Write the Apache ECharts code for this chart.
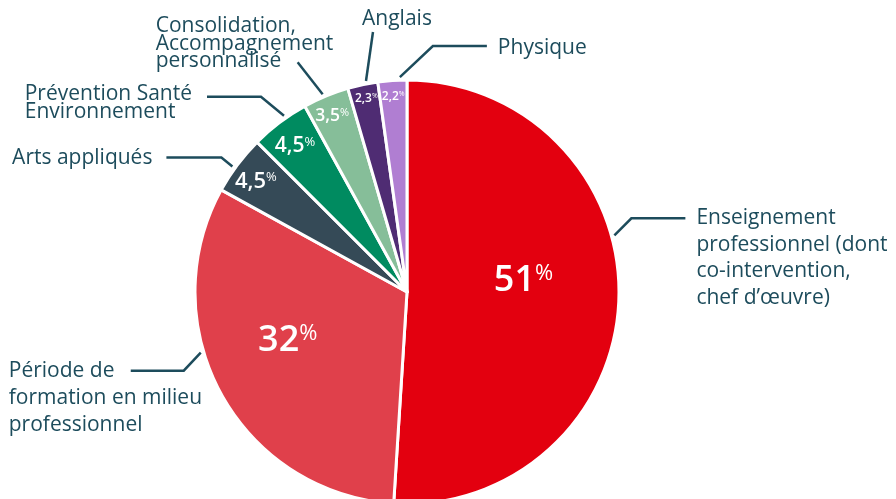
<!DOCTYPE html>
<html><head><meta charset="utf-8">
<script src="https://cdn.jsdelivr.net/npm/echarts@6/dist/echarts.min.js"></script>
<style>html,body{margin:0;padding:0;background:#fff}#c{width:896px;height:499px}</style>
</head><body><div id="c"></div><script>
// ---- data ----
const categories = [
  'Enseignement professionnel (dont co-intervention, chef d’œuvre)',
  'Période de formation en milieu professionnel',
  'Arts appliqués',
  'Prévention Santé Environnement',
  'Consolidation, Accompagnement personnalisé',
  'Anglais',
  'Physique'
];
const categoryLines = [
  ['Enseignement', 'professionnel (dont', 'co-intervention,', 'chef d’œuvre)'],
  ['Période de', 'formation en milieu', 'professionnel'],
  ['Arts appliqués'],
  ['Prévention Santé', 'Environnement'],
  ['Consolidation,', 'Accompagnement', 'personnalisé'],
  ['Anglais'],
  ['Physique']
];
const values = [51, 32, 4.5, 4.5, 3.5, 2.3, 2.2];
const valueLabels = ['51', '32', '4,5', '4,5', '3,5', '2,3', '2,2'];

// ---- styles / layout ----
const colors = ['#e3000f', '#e0404b', '#354a57', '#008b60', '#86be99', '#4f2c73', '#b07ed2'];
const TEXT = '#1d4c5c';
const FONT = 'Open Sans';
const OUT_FS = 21;
const CX = 407, CY = 292, R = 212;
// inner label: [radius px, angle offset from slice middle (deg), font size]
const innerCfg = [[117, -7.2, 36], [129, 6.4, 36], [187, -0.8, 22], [184, -0.6, 21], [191, -0.6, 17.5], [198, 0.2, 12], [195.5, -0.1, 12]];
// outer label: [anchor angle offset, elbow dx, elbow dy, horizontal length, text dx, text dy, align, vAlign, lineHeight]
const outerCfg = [
  [-17.1, 17, -17, 54, 11, -13.25, 'left', 'top', 26.5],
  [12.4, -17, 18, -53, -122, -13.5, 'left', 'top', 27],
  [-1.2, -11, -9, -55, -14, 0, 'right', 'middle', 24],
  [2.0, -23, -19, -54, -15, -12, 'right', 'top', 18],
  [-0.6, -25, -32, 0, -142, 7.75, 'left', 'bottom', 17.5],
  [1.06, 7, -49, 0, 24, -13, 'center', 'middle', 24],
  [2.06, 33, -31, 54, 11, 2, 'left', 'middle', 24]
];

const total = values.reduce((a, b) => a + b, 0);
const midAngles = [];
let cum = 0;
values.forEach(v => { midAngles.push((cum + v / 2) / total * 360); cum += v; });
function polar(r, deg) {
  const a = deg * Math.PI / 180;
  return [CX + r * Math.sin(a), CY - r * Math.cos(a)];
}

const innerData = values.map((v, i) => ({
  name: categories[i], value: v,
  itemStyle: { color: colors[i] },
  label: {
    formatter: '{n|' + valueLabels[i] + '}{p|%}',
    rich: {
      n: { fontSize: innerCfg[i][2], fontWeight: 600, color: '#fff', fontFamily: FONT, lineHeight: innerCfg[i][2] },
      p: { fontSize: Math.round(innerCfg[i][2] * 0.6), fontWeight: 500, color: '#fff', fontFamily: FONT,
           verticalAlign: 'top', lineHeight: Math.round(innerCfg[i][2] * 0.6) }
    }
  }
}));

const outerData = values.map((v, i) => ({
  name: categories[i], value: v,
  label: {
    formatter: categoryLines[i].map(s => '{t|' + s + '}').join('\n'),
    rich: { t: { fontSize: OUT_FS, color: TEXT, fontFamily: FONT, align: 'left', lineHeight: outerCfg[i][8] } }
  }
}));

const chart = echarts.init(document.getElementById('c'), null, { renderer: 'canvas' });
chart.setOption({
  animation: false,
  backgroundColor: '#fff',
  series: [
    {
      type: 'pie', center: [CX, CY], radius: R, startAngle: 90, clockwise: true,
      avoidLabelOverlap: false, silent: true,
      itemStyle: { borderColor: '#fff', borderWidth: 3 },
      label: { show: true, position: 'inside' },
      labelLine: { show: false },
      emphasis: { disabled: true },
      data: innerData,
      labelLayout: function (p) {
        const c = innerCfg[p.dataIndex];
        const pt = polar(c[0], midAngles[p.dataIndex] + c[1]);
        return { x: pt[0], y: pt[1], align: 'center', verticalAlign: 'middle' };
      }
    },
    {
      type: 'pie', center: [CX, CY], radius: R, startAngle: 90, clockwise: true,
      avoidLabelOverlap: false, silent: true,
      itemStyle: { color: 'rgba(0,0,0,0)', borderWidth: 0 },
      label: { show: true, position: 'outside', color: TEXT, fontFamily: FONT, fontSize: OUT_FS },
      labelLine: { show: true, length: 10, length2: 10, lineStyle: { color: TEXT, width: 2.5 } },
      emphasis: { disabled: true },
      data: outerData,
      labelLayout: function (p) {
        const c = outerCfg[p.dataIndex];
        const a = polar(R + 3, midAngles[p.dataIndex] + c[0]);
        const e = [a[0] + c[1], a[1] + c[2]];
        const end = [e[0] + c[3], e[1]];
        return {
          x: end[0] + c[4], y: end[1] + c[5], align: c[6], verticalAlign: c[7],
          labelLinePoints: [a, e, end]
        };
      }
    }
  ]
});
</script></body></html>
